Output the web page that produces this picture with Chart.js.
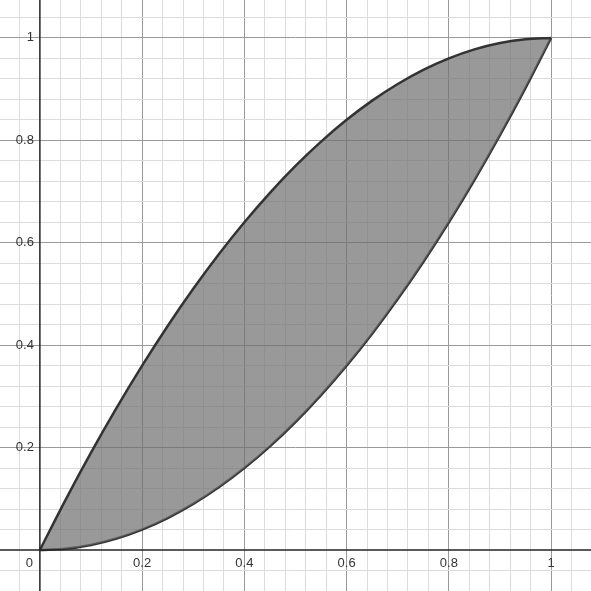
<!DOCTYPE html>
<html>
<head>
<meta charset="utf-8">
<script src="https://cdn.jsdelivr.net/npm/chart.js@4"></script>
<style>
  body { margin: 0; background: #fff; }
  canvas { display: block; }
</style>
</head>
<body>
<canvas id="chart" width="591" height="591"></canvas>
<script>
// values
const xValues = [0, 0.05, 0.1, 0.15, 0.2, 0.25, 0.3, 0.35, 0.4, 0.45, 0.5,
                 0.55, 0.6, 0.65, 0.7, 0.75, 0.8, 0.85, 0.9, 0.95, 1];
const upperValues = [0, 0.0975, 0.19, 0.2775, 0.36, 0.4375, 0.51, 0.5775, 0.64, 0.6975, 0.75,
                     0.7975, 0.84, 0.8775, 0.91, 0.9375, 0.96, 0.9775, 0.99, 0.9975, 1];
const lowerValues = [0, 0.0025, 0.01, 0.0225, 0.04, 0.0625, 0.09, 0.1225, 0.16, 0.2025, 0.25,
                     0.3025, 0.36, 0.4225, 0.49, 0.5625, 0.64, 0.7225, 0.81, 0.9025, 1];
const xTickLabels = ["0.2", "0.4", "0.6", "0.8", "1"];
const yTickLabels = ["0.2", "0.4", "0.6", "0.8", "1"];

const toPoints = (ys) => xValues.map((x, i) => ({ x: x, y: ys[i] }));

function gridColor(ctx) {
  const v = ctx.tick ? ctx.tick.value : 0;
  const r = Math.round(v / 0.04);
  if (Math.abs(v) < 1e-9) return 'rgba(0,0,0,0)';
  return r % 5 === 0 ? '#9a9a9a' : '#dcdcdc';
}

function keepGrid(scale) {
  const ticks = [];
  for (let i = -2; i <= 27; i++) {
    const v = Math.round(i * 0.04 * 100) / 100;
    if (v >= scale.min - 1e-9 && v <= scale.max + 1e-9) ticks.push({ value: v });
  }
  scale.ticks = ticks;
}

const axesPlugin = {
  id: 'axes',
  afterDraw(chart) {
    const { ctx, scales: { x, y } } = chart;
    const x0 = x.getPixelForValue(0), y0 = y.getPixelForValue(0);
    ctx.save();
    ctx.strokeStyle = '#252525';
    ctx.lineWidth = 1.5;
    ctx.beginPath();
    ctx.moveTo(x0, 0); ctx.lineTo(x0, chart.height);
    ctx.moveTo(0, y0); ctx.lineTo(chart.width, y0);
    ctx.stroke();
    ctx.fillStyle = '#333';
    ctx.font = '13px "Liberation Sans", Arial, sans-serif';
    ctx.textBaseline = 'middle';
    ctx.textAlign = 'right';
    ctx.fillText('0', x0 - 7, y0 + 13);
    yTickLabels.forEach(t => ctx.fillText(t, x0 - 6, y.getPixelForValue(parseFloat(t))));
    ctx.textAlign = 'center';
    xTickLabels.forEach(t => ctx.fillText(t, x.getPixelForValue(parseFloat(t)), y0 + 13));
    ctx.restore();
  }
};

new Chart(document.getElementById('chart'), {
  type: 'line',
  data: {
    datasets: [
      {
        data: toPoints(upperValues),
        borderColor: '#333',
        borderWidth: 2.5,
        pointRadius: 0,
        cubicInterpolationMode: 'monotone',
        backgroundColor: 'rgba(110,110,110,0.7)',
        fill: '+1'
      },
      {
        data: toPoints(lowerValues),
        borderColor: '#333',
        borderWidth: 2.5,
        pointRadius: 0,
        cubicInterpolationMode: 'monotone',
        fill: false
      }
    ]
  },
  options: {
    responsive: false,
    devicePixelRatio: 1,
    animation: false,
    layout: { padding: 0 },
    plugins: { legend: { display: false }, tooltip: { enabled: false } },
    scales: {
      x: {
        type: 'linear', min: -0.078, max: 1.078,
        afterBuildTicks: keepGrid,
        ticks: { display: false },
        border: { display: false },
        grid: { color: gridColor, drawTicks: false, lineWidth: 1 }
      },
      y: {
        type: 'linear', min: -0.08, max: 1.074,
        afterBuildTicks: keepGrid,
        ticks: { display: false },
        border: { display: false },
        grid: { color: gridColor, drawTicks: false, lineWidth: 1 }
      }
    }
  },
  plugins: [axesPlugin]
});
</script>
</body>
</html>
